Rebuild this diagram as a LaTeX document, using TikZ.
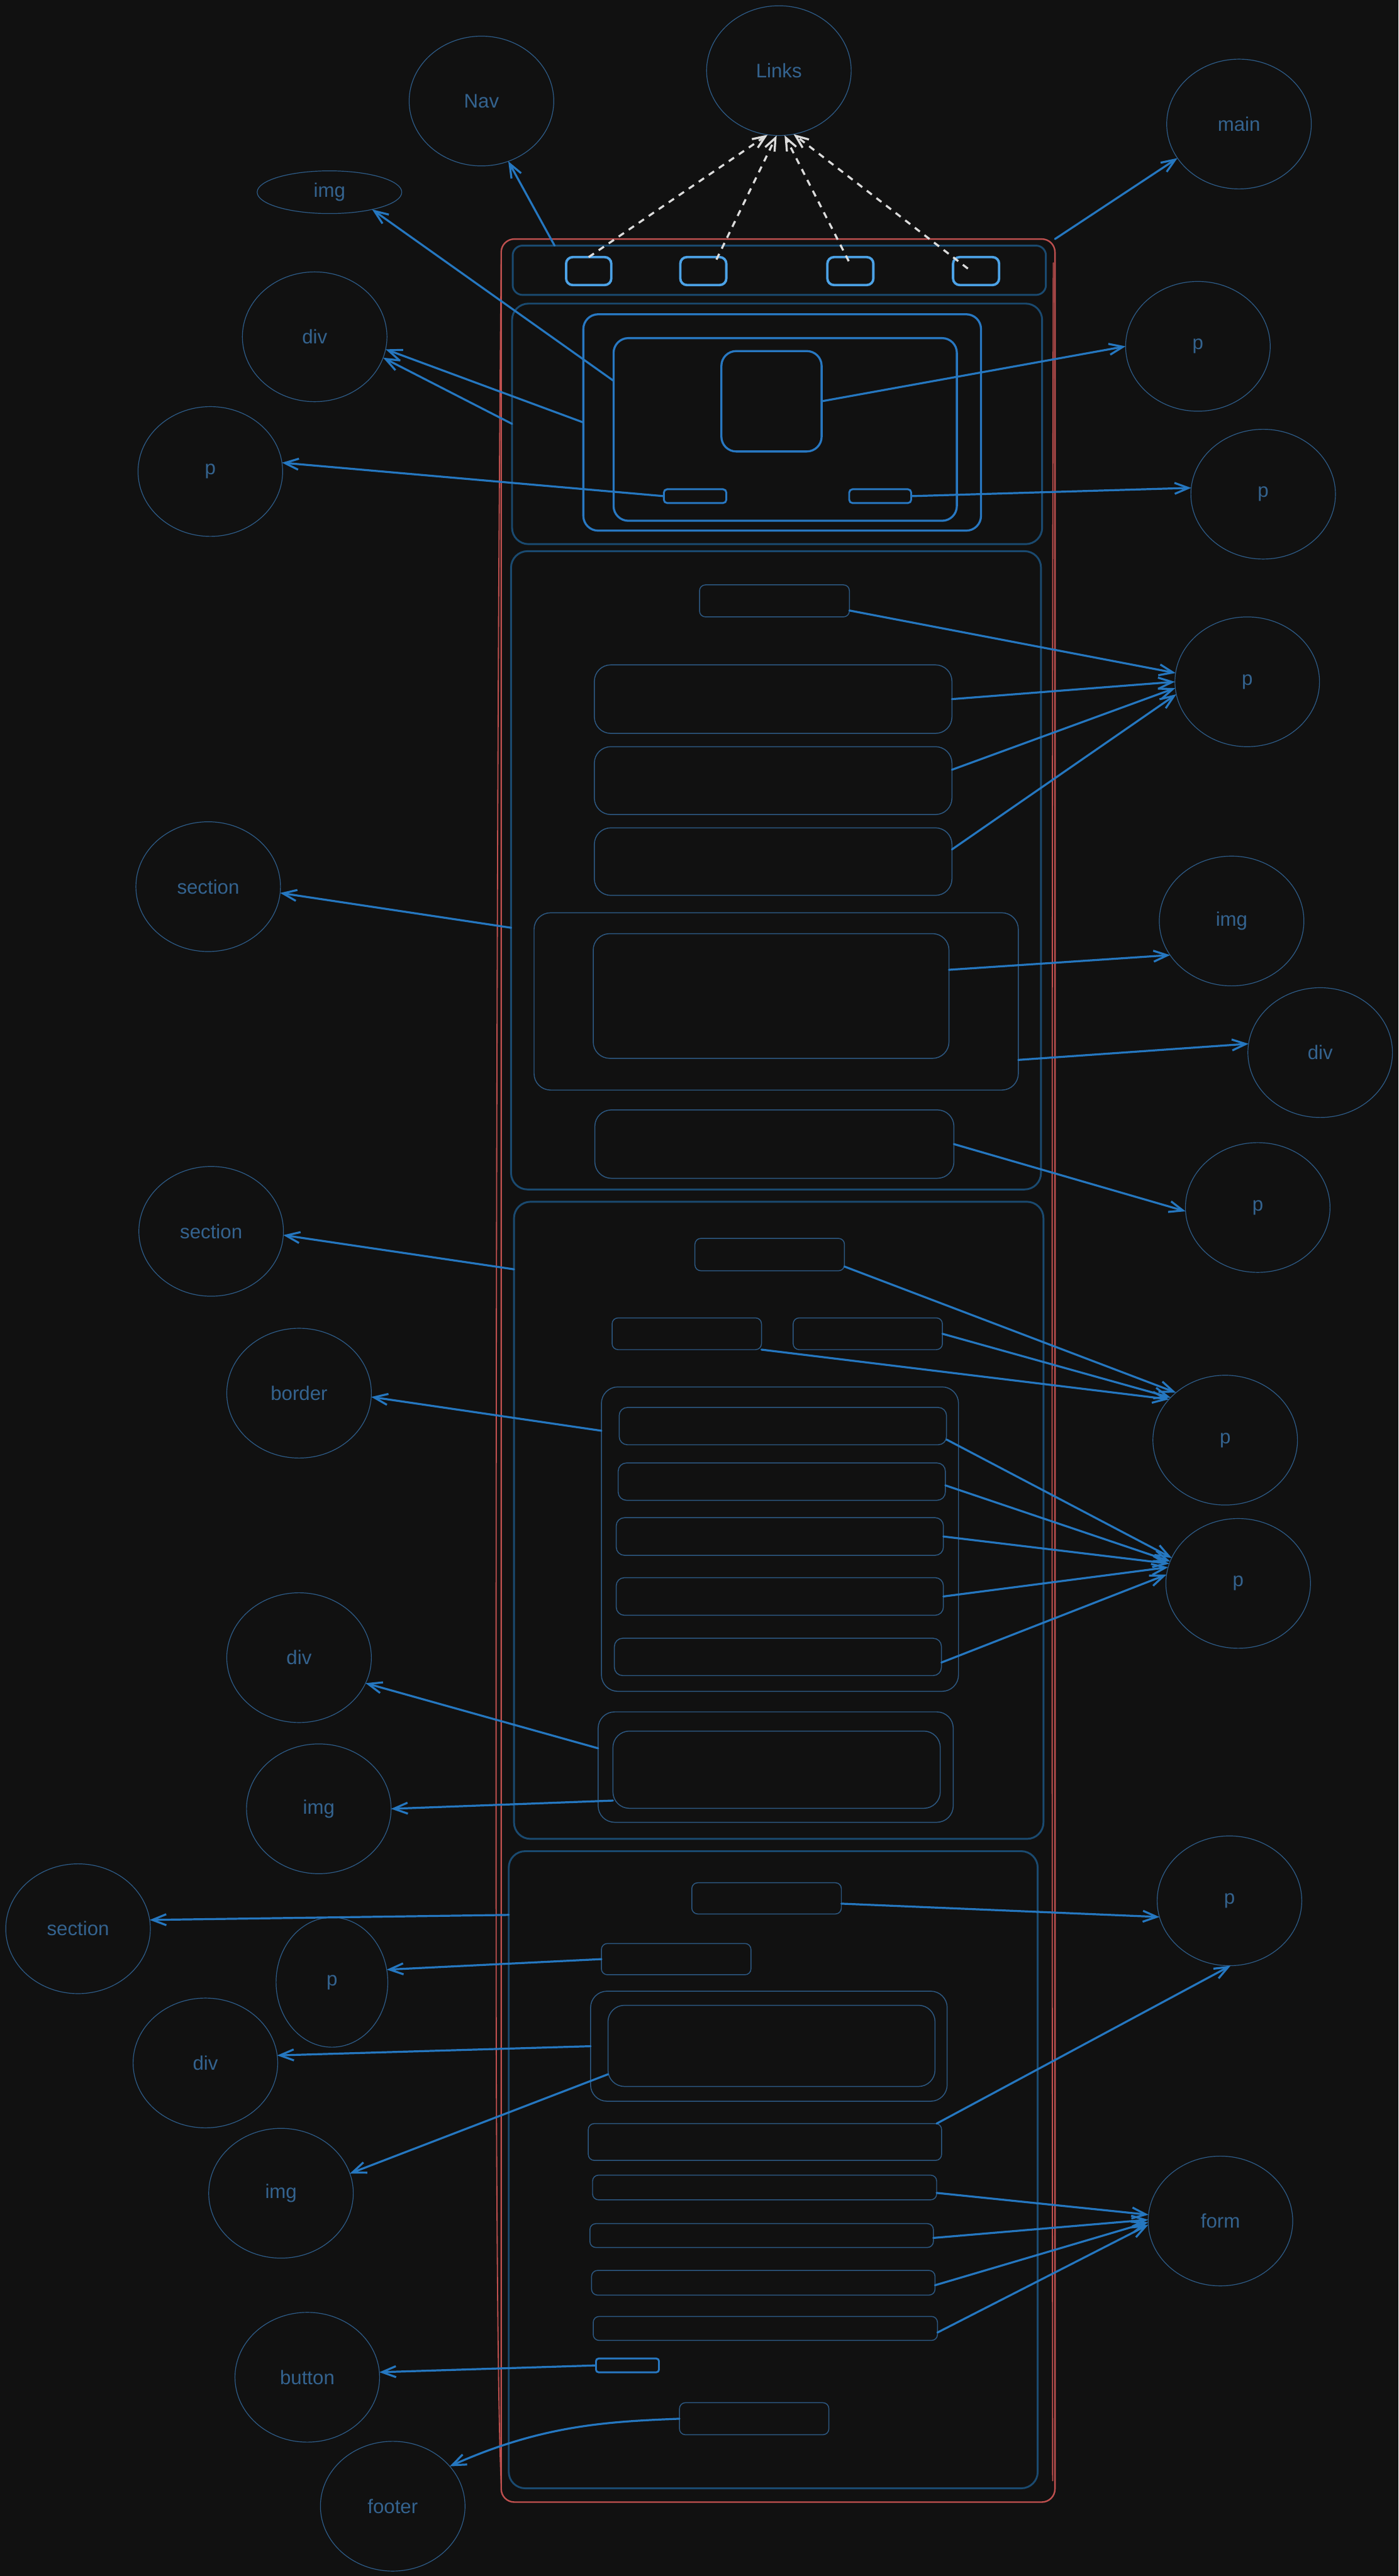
\documentclass[tikz,border=0pt]{standalone}
\usepackage{fontspec}
\setmainfont{Liberation Sans}
\usetikzlibrary{arrows.meta,shapes.geometric,fit,calc}
\definecolor{bgc}{HTML}{111111}
\definecolor{redc}{HTML}{C0504F}
\definecolor{contc}{HTML}{1A4A70}
\definecolor{herob}{HTML}{2878C2}
\definecolor{linkb}{HTML}{4CA2E6}
\definecolor{thinb}{HTML}{2D5983}
\definecolor{ellc}{HTML}{2E5D8A}
\definecolor{txtc}{HTML}{34638F}
\definecolor{arrc}{HTML}{2577C0}
\definecolor{dashc}{HTML}{DCDCDC}
\begin{document}
\begin{tikzpicture}[x=0.05cm,y=-0.05cm,
  every node/.style={inner sep=0pt,outer sep=0pt},
  redbox/.style={draw=redc,line width=1.3pt,rounded corners=0.4cm},
  cont/.style={draw=contc,line width=1.6pt,rounded corners=0.5cm},
  herobox/.style={draw=herob,line width=1.8pt,rounded corners=0.45cm},
  herosmall/.style={draw=herob,line width=1.6pt,rounded corners=0.1cm},
  linkbox/.style={draw=linkb,line width=2.1pt,rounded corners=0.2cm},
  thinbig/.style={draw=thinb,line width=0.8pt,rounded corners=0.5cm},
  thinbox/.style={draw=thinb,line width=0.8pt,rounded corners=0.25cm},
  thinsmall/.style={draw=thinb,line width=0.8pt,rounded corners=0.18cm},
  btnbox/.style={draw=herob,line width=1.6pt,rounded corners=0.08cm},
  ell/.style={ellipse,draw=ellc,line width=0.65pt,minimum width=4.4cm,minimum height=3.95cm,text=txtc,font=\fontsize{17}{20}\selectfont},
  arr/.style={draw=arrc,line width=1.75pt,line cap=round,-{Straight Barb[length=12pt,width=9.5pt]}},
  darr/.style={draw=dashc,line width=1.8pt,dash pattern=on 5.5pt off 5pt,-{Straight Barb[length=11pt,width=9pt]}}
]
\useasboundingbox (0,0) rectangle (851,1568);
\fill[bgc] (0,0) rectangle (851,1568);

% ---------- outer page frame ----------
\node[redbox,fit={(305,145.5)(642,1523)}] (page) {};
\draw[draw=redc,line width=1pt,line cap=round] (305,158) .. controls (302.5,400) and (301.5,900) .. (302,1250) .. controls (302.5,1400) and (303.5,1480) .. (305,1512);
\draw[draw=redc,line width=1pt,line cap=round] (641,160) .. controls (640,600) and (640.2,1100) .. (640.6,1510);

% ---------- nav ----------
\node[cont,rounded corners=0.3cm,fit={(312,149.5)(636.5,179.5)}] (navbar) {};
\node[linkbox,fit={(344.5,156.5)(372,173.5)}] (nl1) {};
\node[linkbox,fit={(414,156.5)(442,173.5)}] (nl2) {};
\node[linkbox,fit={(503.5,156.5)(531.5,173.5)}] (nl3) {};
\node[linkbox,fit={(580,156.5)(608,173.5)}] (nl4) {};

% ---------- hero ----------
\node[cont,fit={(311.6,184.8)(634.2,331.2)}] (herocont) {};
\node[herobox,fit={(355,191.3)(597,323)}] (hero1) {};
\node[herobox,fit={(373.4,205.8)(582.3,317)}] (hero2) {};
\node[herobox,fit={(439,213.7)(500,274.8)}] (herosq) {};
\node[herosmall,fit={(404,297.8)(442,306.2)}] (hs1) {};
\node[herosmall,fit={(516.8,297.8)(554.5,306.2)}] (hs2) {};

% ---------- section 1 ----------
\node[cont,fit={(311,335.5)(633.5,724)}] (sec1) {};
\node[thinsmall,fit={(425.7,356)(516.9,375.5)}] (s1title) {};
\node[thinbig,fit={(361.7,404.7)(579.3,446.4)}] (s1p1) {};
\node[thinbig,fit={(361.7,454.5)(579.3,495.8)}] (s1p2) {};
\node[thinbig,fit={(361.7,503.9)(579.3,545)}] (s1p3) {};
\node[thinbig,fit={(325,555.6)(619.7,663.5)}] (s1imgc) {};
\node[thinbig,fit={(361,568.3)(577.5,644.2)}] (s1img) {};
\node[thinbig,fit={(362,675.6)(580.5,717.2)}] (s1box) {};

% ---------- section 2 ----------
\node[cont,fit={(312.8,731.5)(635,1119.3)}] (sec2) {};
\node[thinsmall,fit={(422.9,753.8)(513.9,773.5)}] (s2title) {};
\node[thinsmall,fit={(372.5,802.2)(463.4,821.5)}] (s2b1) {};
\node[thinsmall,fit={(482.7,802.2)(573.5,821.5)}] (s2b2) {};
\node[thinbig,fit={(366,844.2)(583.3,1029.5)}] (s2list) {};
\node[thinbox,fit={(376.8,856.7)(576,879.4)}] (li1) {};
\node[thinbox,fit={(376.2,890.5)(575.3,913.2)}] (li2) {};
\node[thinbox,fit={(375,923.8)(574.1,946.7)}] (li3) {};
\node[thinbox,fit={(375,960.3)(574.1,983.2)}] (li4) {};
\node[thinbox,fit={(373.9,997.2)(572.9,1019.9)}] (li5) {};
\node[thinbig,fit={(364,1042)(580.1,1109.2)}] (s2imgc) {};
\node[thinbig,fit={(373,1053.7)(572.2,1100.7)}] (s2img) {};

% ---------- section 3 ----------
\node[cont,fit={(309.6,1126.8)(631.5,1514.6)}] (sec3) {};
\node[thinsmall,fit={(421,1146)(512,1165)}] (s3title) {};
\node[thinsmall,fit={(366,1183)(457,1202)}] (s3p) {};
\node[thinbig,fit={(359.4,1212)(576.4,1279)}] (s3divc) {};
\node[thinbig,fit={(370,1220.6)(569,1270)}] (s3div) {};
\node[thinsmall,fit={(358,1292.6)(573,1315)}] (f1) {};
\node[thinsmall,fit={(360.6,1324)(570,1339)}] (f2) {};
\node[thinsmall,fit={(359,1353.5)(568,1368)}] (f3) {};
\node[thinsmall,fit={(360,1382)(569,1397)}] (f4) {};
\node[thinsmall,fit={(361,1410)(570.5,1424.6)}] (f5) {};
\node[btnbox,fit={(362.7,1435.6)(401,1444)}] (btn) {};
\node[thinsmall,fit={(413.5,1462.5)(504.4,1482)}] (footbox) {};

% ---------- label ellipses ----------
\node[ell] (links) at (474,43) {Links};
\node[ell] (nav) at (293,61.5) {Nav};
\node[ell] (main) at (754,75.5) {main};
\node[ell,minimum height=1.3cm] (img1) at (200.5,117) {img};
\node[ell] (div1) at (191.5,205) {div};
\node[ell] (p1) at (128,287) {p};
\node[ell] (pr1) at (729,210.8) {p};
\node[ell] (pr2) at (768.7,300.8) {p};
\node[ell] (pr3) at (759,415) {p};
\node[ell] (imgr) at (749.5,560.6) {img};
\node[ell] (divr) at (803.4,640.7) {div};
\node[ell] (pr4) at (765.4,735) {p};
\node[ell] (secl1) at (126.7,539.7) {section};
\node[ell] (secl2) at (128.5,749.5) {section};
\node[ell] (border) at (182,848) {border};
\node[ell] (pr5) at (745.6,876.6) {p};
\node[ell] (pr6) at (753.5,963.8) {p};
\node[ell] (divl3) at (182,1009) {div};
\node[ell] (imgl2) at (194,1101) {img};
\node[ell] (secl3) at (47.5,1174) {section};
\node[ell,minimum width=3.4cm] (pl4) at (202,1206.6) {p};
\node[ell] (divl4) at (125,1255.7) {div};
\node[ell] (imgl3) at (171,1335) {img};
\node[ell] (pr7) at (748.2,1157) {p};
\node[ell] (form) at (742.7,1351.9) {form};
\node[ell] (button) at (187,1447) {button};
\node[ell] (footer) at (239,1525.5) {footer};

% ---------- connectors ----------
\draw[darr] (nl1.north) -- (links.260);
\draw[darr] ($(nl2.north)+(8,1.5)$) -- (links.268);
\draw[darr] ($(nl3.north)+(-1,2.5)$) -- (links.275);
\draw[darr] ($(nl4.north)+(-5,7)$) -- (links.283);

\draw[arr] ($(navbar.north west)+(25.5,0)$) -- (nav.294);
\draw[arr] (page.north east) -- (main.209);
\draw[arr] ($(hero2.north west)!0.234!(hero2.south west)$) -- (img1.338);
\draw[arr] (hero1.west) -- (div1.350);
\draw[arr] (herocont.west) -- (div1.343);
\draw[arr] (hs1.west) -- (p1.7);
\draw[arr] (herosq.east) -- (pr1.180);
\draw[arr] (hs2.east) -- (pr2.175);

\draw[arr] ($(s1title.north east)!0.8!(s1title.south east)$) -- (pr3.173);
\draw[arr] (s1p1.east) -- (pr3.180);
\draw[arr] ($(s1p2.north east)!0.34!(s1p2.south east)$) -- (pr3.185);
\draw[arr] ($(s1p3.north east)!0.32!(s1p3.south east)$) -- (pr3.190);
\draw[arr] ($(s1img.north east)!0.29!(s1img.south east)$) -- (imgr.209);
\draw[arr] ($(s1imgc.north east)!0.83!(s1imgc.south east)$) -- (divr.173);
\draw[arr] (s1box.east) -- (pr4.183);
\draw[arr] ($(sec1.north west)!0.59!(sec1.south west)$) -- (secl1.355);

\draw[arr] ($(sec2.north west)!0.106!(sec2.south west)$) -- (secl2.357);
\draw[arr] ($(s2list.north west)!0.144!(s2list.south west)$) -- (border.357);
\draw[arr] ($(s2title.north east)!0.87!(s2title.south east)$) -- (pr5.136);
\draw[arr] (s2b2.east) -- (pr5.142);
\draw[arr] (s2b1.south east) -- (pr5.144);
\draw[arr] ($(li1.north east)!0.86!(li1.south east)$) -- (pr6.159);
\draw[arr] ($(li2.north east)!0.6!(li2.south east)$) -- (pr6.162);
\draw[arr] (li3.east) -- (pr6.164);
\draw[arr] (li4.east) -- (pr6.167);
\draw[arr] ($(li5.north east)!0.65!(li5.south east)$) -- (pr6.173);
\draw[arr] ($(s2imgc.north west)!0.33!(s2imgc.south west)$) -- (divl3.339);
\draw[arr] ($(s2img.north west)!0.9!(s2img.south west)$) -- (imgl2.0);

\draw[arr] ($(sec3.north west)!0.10!(sec3.south west)$) -- (secl3.7);
\draw[arr] (s3p.west) -- (pl4.13);
\draw[arr] (s3divc.west) -- (divl4.6);
\draw[arr] ($(s3div.north west)!0.85!(s3div.south west)$) -- (imgl3.16);
\draw[arr] ($(s3title.north east)!0.67!(s3title.south east)$) -- (pr7.193);
\draw[arr] ($(f1.north east)+(-3,0)$) -- (pr7.271);
\draw[arr] ($(f2.north east)!0.72!(f2.south east)$) -- (form.175);
\draw[arr] ($(f3.north east)!0.6!(f3.south east)$) -- (form.179);
\draw[arr] ($(f4.north east)!0.6!(f4.south east)$) -- (form.181);
\draw[arr] ($(f5.north east)!0.67!(f5.south east)$) -- (form.183);
\draw[arr] (btn.west) -- (button.4);
\draw[arr] (footbox.west) .. controls (370,1474) and (330,1476) .. (footer.35);
\end{tikzpicture}
\end{document}
